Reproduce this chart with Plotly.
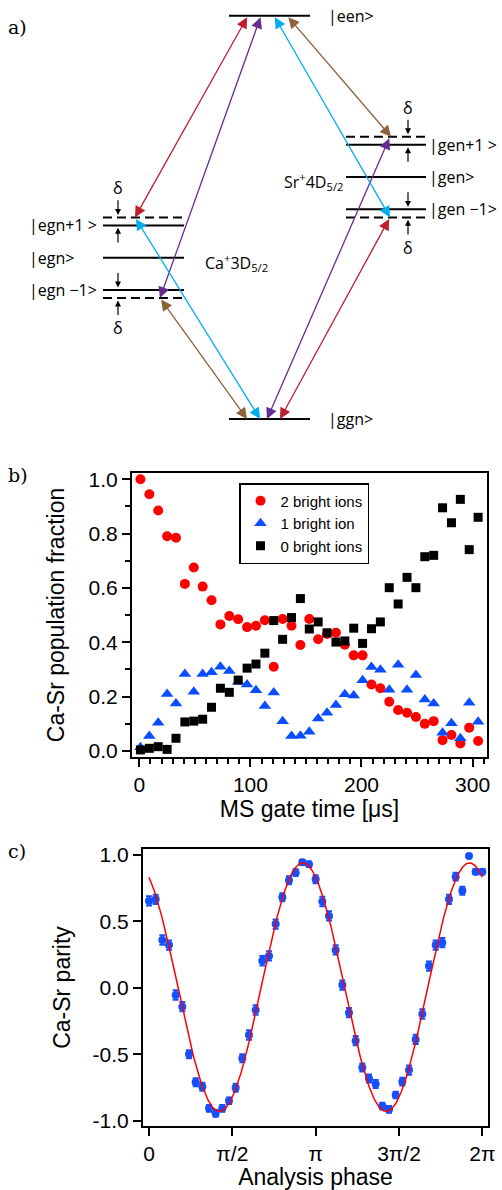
import math
import plotly.graph_objects as go

# ---------------- panel b data ----------------
gate_time_us = [1, 9, 17, 25, 33, 41, 49, 57, 65, 73, 81, 89, 97, 105, 113, 121, 129, 137, 145,
                153, 161, 169, 177, 185, 193, 201, 209, 217, 225, 233, 241, 249, 257, 265, 273,
                281, 289, 297, 305]
two_bright = [1.0, 0.945, 0.885, 0.79, 0.785, 0.615, 0.675, 0.605, 0.555, 0.466, 0.497, 0.485,
              0.456, 0.461, 0.481, 0.31, 0.486, 0.461, 0.39, 0.486, 0.411, 0.431, 0.435, 0.391,
              0.352, 0.352, 0.245, 0.231, 0.181, 0.151, 0.141, 0.125, 0.100, 0.110, 0.040,
              0.059, 0.028, 0.086, 0.037]
one_bright = [0.014, 0.055, 0.104, 0.21, 0.175, 0.283, 0.218, 0.283, 0.29, 0.31, 0.294, 0.255,
              0.245, 0.224, 0.166, 0.215, 0.110, 0.055, 0.056, 0.071, 0.120, 0.141, 0.169,
              0.209, 0.204, 0.260, 0.309, 0.299, 0.225, 0.317, 0.225, 0.280, 0.190, 0.175,
              0.067, 0.102, 0.047, 0.178, 0.108]
zero_bright = [0.004, 0.010, 0.016, 0.006, 0.047, 0.107, 0.110, 0.117, 0.161, 0.231, 0.216,
               0.261, 0.305, 0.320, 0.360, 0.480, 0.411, 0.491, 0.561, 0.449, 0.475, 0.435,
               0.401, 0.405, 0.452, 0.396, 0.450, 0.475, 0.601, 0.541, 0.639, 0.601, 0.715,
               0.720, 0.895, 0.840, 0.926, 0.741, 0.860]
b_yticks = [0.0, 0.2, 0.4, 0.6, 0.8, 1.0]
b_yticktext = ["0.0", "0.2", "0.4", "0.6", "0.8", "1.0"]
b_xticks = [0, 100, 200, 300]

# ---------------- panel c data ----------------
phase_over_pi = [0.00, 0.04, 0.08, 0.12, 0.16, 0.20, 0.24, 0.28, 0.32, 0.36, 0.40, 0.44, 0.48,
                 0.52, 0.56, 0.60, 0.64, 0.68, 0.72, 0.76, 0.80, 0.84, 0.88, 0.92, 0.96, 1.00,
                 1.04, 1.08, 1.12, 1.16, 1.20, 1.24, 1.28, 1.32, 1.36, 1.40, 1.44, 1.48, 1.52,
                 1.56, 1.60, 1.64, 1.68, 1.72, 1.76, 1.80, 1.84, 1.88, 1.92, 1.96, 2.00]
parity = [0.654, 0.666, 0.36, 0.322, -0.054, -0.142, -0.5, -0.711, -0.744, -0.907,
          -0.945, -0.907, -0.85, -0.752, -0.53, -0.355, -0.167, 0.204, 0.24, 0.48,
          0.681, 0.81, 0.867, 0.945, 0.93, 0.817, 0.65, 0.541, 0.285, 0.021,
          -0.187, -0.398, -0.599, -0.682, -0.724, -0.89, -0.915, -0.807, -0.706, -0.619,
          -0.388, -0.197, 0.164, 0.322, 0.34, 0.666, 0.837, 0.731, 0.992, 0.874, 0.874]
parity_err = [0.035, 0.035, 0.035, 0.035, 0.035, 0.035, 0.03, 0.03, 0.03, 0.025,
              0.025, 0.025, 0.025, 0.03, 0.03, 0.035, 0.035, 0.035, 0.035, 0.035,
              0.03, 0.03, 0.025, 0.02, 0.02, 0.03, 0.035, 0.035, 0.035, 0.035,
              0.035, 0.035, 0.03, 0.03, 0.03, 0.025, 0.025, 0.025, 0.03, 0.035,
              0.035, 0.035, 0.035, 0.035, 0.035, 0.035, 0.03, 0.03, 0.0, 0.02, 0.02]
fit_amplitude = 0.935
fit_offset = 0.005
fit_peak_phase = 2.9   # rad
c_xtickvals_over_pi = [0, 0.5, 1, 1.5, 2]
c_xticktext = ["0", "π/2", "π", "3π/2", "2π"]
c_yticks = [-1.0, -0.5, 0.0, 0.5, 1.0]
c_yticktext = ["-1.0", "-0.5", "0.0", "0.5", "1.0"]

# ---------------- panel a (level scheme) ----------------
E_een, E_ggn = 1.0, 0.0
E_egn, E_gen = 0.40, 0.60
phonon, delta = 0.08, 0.02
col_center = (229, 310)
col_ca = (103, 184)
col_sr = (346, 426)
laser_colors = {"red": "#be1e2d", "purple": "#662d91", "cyan": "#00aeef", "brown": "#8c6239"}

FONT = "Liberation Sans, Arial, sans-serif"
DFONT = "Open Sans, Noto Sans, sans-serif"
SERIF = "DejaVu Serif, serif"

fig = go.Figure()

# ---- panel b traces ----
fig.add_trace(go.Scatter(x=gate_time_us, y=two_bright, mode="markers", name="2 bright ions",
                         marker=dict(symbol="circle", size=10, color="#ff0000"),
                         xaxis="x", yaxis="y"))
fig.add_trace(go.Scatter(x=gate_time_us, y=one_bright, mode="markers", name="1 bright ion",
                         marker=dict(symbol="triangle-up", size=11, color="#0a4dff"),
                         xaxis="x", yaxis="y"))
fig.add_trace(go.Scatter(x=gate_time_us, y=zero_bright, mode="markers", name="0 bright ions",
                         marker=dict(symbol="square", size=9, color="#000000"),
                         xaxis="x", yaxis="y"))

# ---- panel c traces ----
phase_rad = [p * math.pi for p in phase_over_pi]
fig.add_trace(go.Scatter(x=phase_rad, y=parity, mode="markers", showlegend=False,
                         marker=dict(symbol="circle", size=8, color="#1450ff"),
                         error_y=dict(type="data", array=parity_err, visible=True,
                                      color="#1450ff", thickness=2, width=3),
                         xaxis="x2", yaxis="y2"))
fit_x = [i * 2 * math.pi / 400 for i in range(401)]
fit_y = [fit_offset + fit_amplitude * math.cos(2 * (t - fit_peak_phase)) for t in fit_x]
fig.add_trace(go.Scatter(x=fit_x, y=fit_y, mode="lines", showlegend=False,
                         line=dict(color="#ff0000", width=1.5), xaxis="x2", yaxis="y2"))

# ---- panel a: levels ----
solid = [(col_center, E_een), (col_center, E_ggn),
         (col_ca, E_egn + phonon), (col_ca, E_egn), (col_ca, E_egn - phonon),
         (col_sr, E_gen + phonon), (col_sr, E_gen), (col_sr, E_gen - phonon)]
dashed = [(col_ca, E_egn + phonon + delta), (col_ca, E_egn - phonon - delta),
          (col_sr, E_gen + phonon + delta), (col_sr, E_gen - phonon - delta)]

def seg(levels):
    xs, ys = [], []
    for (x0, x1), e in levels:
        xs += [x0, x1, None]
        ys += [e, e, None]
    return xs, ys

xs, ys = seg(solid)
fig.add_trace(go.Scatter(x=xs, y=ys, mode="lines", showlegend=False, hoverinfo="skip",
                         line=dict(color="black", width=2), xaxis="x3", yaxis="y3"))
xs, ys = seg(dashed)
fig.add_trace(go.Scatter(x=xs, y=ys, mode="lines", showlegend=False, hoverinfo="skip",
                         line=dict(color="black", width=2, dash="9px,5px"), xaxis="x3", yaxis="y3"))

annotations = []
E_ca_up = E_egn + phonon + delta
E_ca_dn = E_egn - phonon - delta
E_sr_up = E_gen + phonon + delta
E_sr_dn = E_gen - phonon - delta
transitions = [
    ("red", 248, E_een, 135, E_ca_up), ("red", 390, E_sr_dn, 280, E_ggn),
    ("purple", 261, E_een, 160, E_ca_dn), ("purple", 390, E_sr_up, 267, E_ggn),
    ("cyan", 274, E_een, 390, E_sr_dn), ("cyan", 135, E_ca_up, 260, E_ggn),
    ("brown", 287, E_een, 391, E_sr_up), ("brown", 160, E_ca_dn, 247, E_ggn),
]
for c, xa, ea, xb, eb in transitions:
    annotations.append(dict(x=xb, y=eb, ax=xa, ay=ea, xref="x3", yref="y3", axref="x3", ayref="y3",
                            text="", showarrow=True, arrowhead=2, arrowsize=1.7, arrowwidth=1.3,
                            arrowside="end+start", startarrowhead=2, startarrowsize=1.7,
                            arrowcolor=laser_colors[c]))

def small_arrow(x, e_tip, direction):
    return dict(x=x, y=e_tip, ax=x, ay=e_tip - direction * 0.04, xref="x3", yref="y3",
                axref="x3", ayref="y3", text="", showarrow=True, arrowhead=2, arrowsize=1.0,
                arrowwidth=1.2, arrowcolor="black")

for x, e_dash, e_solid in [(118, E_ca_up, E_egn + phonon), (118, E_ca_dn, E_egn - phonon),
                           (408, E_sr_up, E_gen + phonon), (408, E_sr_dn, E_gen - phonon)]:
    hi, lo = max(e_dash, e_solid), min(e_dash, e_solid)
    annotations.append(small_arrow(x, hi + 0.006, -1))
    annotations.append(small_arrow(x, lo - 0.006, +1))
    ty = hi + 0.072 if e_dash > e_solid else lo - 0.075
    annotations.append(dict(x=x, y=ty, xref="x3", yref="y3", text="δ", showarrow=False,
                            font=dict(family=DFONT, size=16, color="black")))

lab = dict(family=DFONT, size=16, color="black")
for txt, x, e, xa in [("|een>", 326, E_een, "left"), ("|ggn>", 326, E_ggn, "left"),
                      ("|egn+1 >", 27, E_egn + phonon, "left"), ("|egn>", 27, E_egn, "left"),
                      ("|egn −1>", 27, E_egn - phonon, "left"),
                      ("|gen+1 >", 427, E_gen + phonon, "left"), ("|gen>", 427, E_gen, "left"),
                      ("|gen −1>", 427, E_gen - phonon, "left"),
                      ("Ca<sup>+</sup>3D<sub>5/2</sub>", 203, E_egn - 0.012, "left"),
                      ("Sr<sup>+</sup>4D<sub>5/2</sub>", 345, E_gen - 0.012, "right")]:
    annotations.append(dict(x=x, y=e, xref="x3", yref="y3", text=txt, showarrow=False,
                            xanchor=xa, yanchor="middle", font=lab))

for txt, yy in [("a)", 27), ("b)", 475), ("c)", 851)]:
    annotations.append(dict(x=6 / 502, y=1 - yy / 1190, xref="paper", yref="paper", text=txt,
                            showarrow=False, xanchor="left", yanchor="middle",
                            font=dict(family=SERIF, size=19, color="black")))

axis_common = dict(showline=True, linewidth=2, linecolor="black", mirror=True, ticks="outside",
                   ticklen=8, tickwidth=1.5, tickcolor="black", showgrid=False, zeroline=False,
                   automargin=False, tickfont=dict(family=FONT, size=21, color="black"))
title_font = dict(family=FONT, size=23, color="black")

fig.update_layout(
    template="none",
    width=502, height=1190, margin=dict(l=0, r=0, t=0, b=0, autoexpand=False),
    paper_bgcolor="white", plot_bgcolor="white",
    showlegend=True,
    legend=dict(x=239 / 502, y=1 - 483 / 1190, xanchor="left", yanchor="top",
                bgcolor="white", bordercolor="black", borderwidth=1.5,
                font=dict(family=FONT, size=15, color="black"), tracegroupgap=0),
    xaxis=dict(domain=[132 / 502, 487 / 502], anchor="y", range=[-6.6, 313],
               tickvals=b_xticks,
               minor=dict(tickmode="linear", tick0=0, dtick=10, ticklen=5, ticks="outside",
                          tickwidth=1.5, tickcolor="black"),
               title=dict(text="MS gate time [μs]", font=title_font, standoff=3),
               **axis_common),
    yaxis=dict(domain=[1 - 757 / 1190, 1 - 473 / 1190], anchor="x", range=[-0.022, 1.023],
               tickvals=b_yticks, ticktext=b_yticktext,
               minor=dict(tickmode="linear", tick0=0, dtick=0.1, ticklen=5, ticks="outside",
                          tickwidth=1.5, tickcolor="black"),
               title=dict(text="Ca-Sr population fraction", font=title_font, standoff=18),
               **axis_common),
    xaxis2=dict(domain=[143 / 502, 488 / 502], anchor="y2", range=[-0.113, 6.39],
                tickvals=[v * math.pi for v in c_xtickvals_over_pi], ticktext=c_xticktext,
                title=dict(text="Analysis phase", font=title_font, standoff=2),
                **axis_common),
    yaxis2=dict(domain=[1 - 1126 / 1190, 1 - 849 / 1190], anchor="x2", range=[-1.04, 1.045],
                tickvals=c_yticks, ticktext=c_yticktext,
                title=dict(text="Ca-Sr parity", font=title_font, standoff=16),
                **axis_common),
    xaxis3=dict(domain=[0, 1], anchor="y3", range=[0, 502], visible=False, fixedrange=True),
    yaxis3=dict(domain=[1 - 440 / 1190, 1], anchor="x3", range=[-0.052, 1.039], visible=False,
                fixedrange=True),
    annotations=annotations,
)

fig.write_html("out.html", config={"displayModeBar": False},
               post_script="document.body.style.margin='0';document.body.style.overflow='hidden';")
